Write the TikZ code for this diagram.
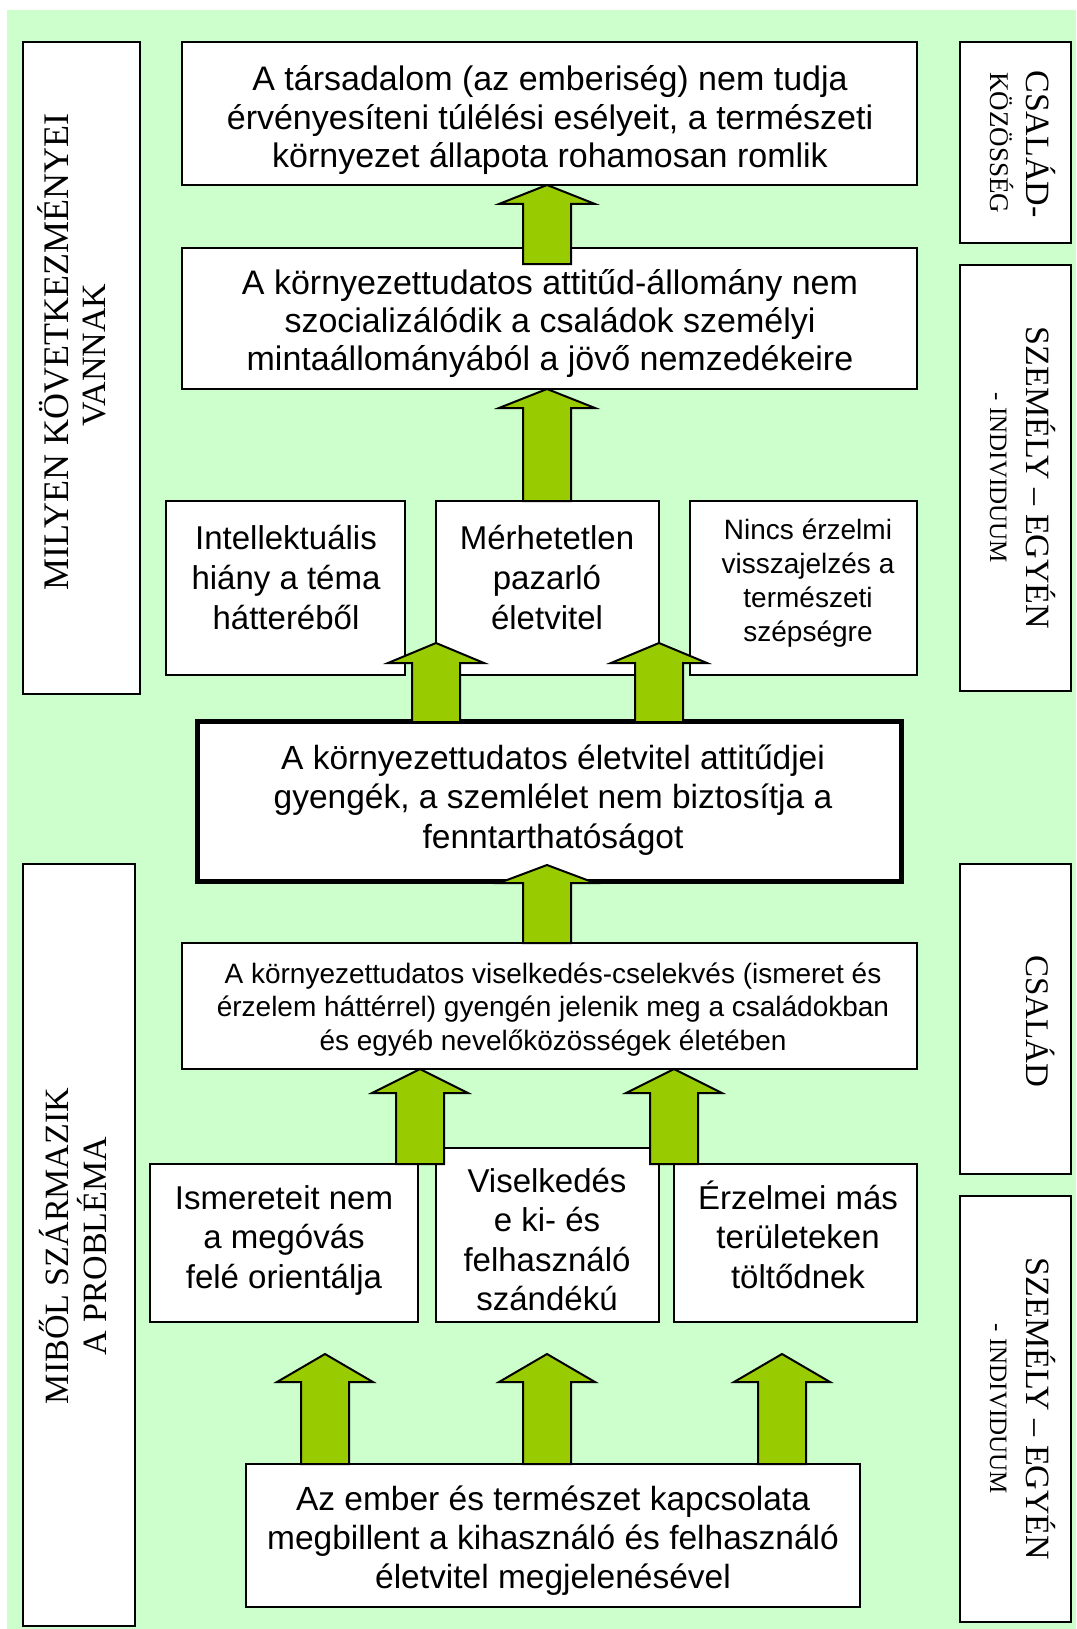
\documentclass[tikz,border=0pt]{standalone}
\usepackage{fontspec}
\setmainfont{Liberation Sans}
\newfontfamily\vserif{Liberation Serif}
\usetikzlibrary{fit}
\definecolor{bggreen}{HTML}{CCFFCC}
\definecolor{arrgreen}{HTML}{99CC00}
\newcommand\ml[1]{\begin{tabular}[t]{@{}c@{}}#1\end{tabular}}
% name, centre x, tip y, shoulder y, bottom y
\newcommand\blkarrow[5]{%
  \coordinate (#1-tip) at (#2,#3);
  \coordinate (#1-base) at (#2,#5);
  \draw[arr] (#1-tip) -- (#2+48,#4) -- (#2+24,#4) -- (#2+24,#5) -- (#1-base) -- (#2-24,#5) -- (#2-24,#4) -- (#2-48,#4) -- cycle;}
\begin{document}
\begin{tikzpicture}[x=1pt,y=-1pt,
  box/.style={draw=black, line width=1.7pt, fill=white, inner sep=0pt, outer sep=0pt},
  arr/.style={draw=black, line width=2pt, fill=arrgreen, line join=miter},
  txt/.style={anchor=base, inner sep=0pt, outer sep=0pt},
  fbig/.style={font={\fontsize{34}{38.5}\selectfont}},
  fmid/.style={font={\fontsize{33}{39.5}\selectfont}},
  fsmall/.style={font={\fontsize{28}{33.5}\selectfont}}]
\useasboundingbox (0,0) rectangle (1076,1629);
\fill[white] (0,0) rectangle (1076,1629);
\fill[bggreen] (7,10) rectangle (1076,1629);

% side boxes
\node[box, fit={(23,42)(140,694)}] (L1) {};
\node[box, fit={(23,864)(135,1626)}] (L2) {};
\node[box, fit={(960,42)(1071,243)}] (R1) {};
\node[box, fit={(960,265)(1071,691)}] (R2) {};
\node[box, fit={(960,864)(1071,1174)}] (R3) {};
\node[box, fit={(960,1196)(1071,1622)}] (R4) {};

% main boxes
\node[box, fit={(182,42)(917,185)}] (B1) {};
\node[box, fit={(182,248)(917,389)}] (B2) {};
\node[box, fit={(166,501)(405,675)}] (T1) {};
\node[box, fit={(436,501)(659,675)}] (T2) {};
\node[box, fit={(690,501)(917,675)}] (T3) {};
\node[box, line width=5pt, fit={(197,721)(901,881)}] (TH) {};
\node[box, fit={(182,943)(917,1069)}] (V) {};
\node[box, fit={(150,1164)(418,1322)}] (I) {};
\node[box, fit={(436,1148)(659,1322)}] (VI) {};
\node[box, fit={(674,1164)(917,1322)}] (E) {};
\node[box, fit={(246,1464)(860,1607)}] (BOT) {};

% block arrows
\blkarrow{a1}{547}{185}{204}{264}
\blkarrow{a2}{547}{389}{408}{501}
\blkarrow{a3}{436}{643}{663}{722}
\blkarrow{a4}{659}{643}{663}{722}
\blkarrow{a5}{547}{865}{883}{943}
\blkarrow{a6}{420}{1069}{1093}{1164}
\blkarrow{a7}{674}{1069}{1093}{1164}
\blkarrow{a8}{325}{1354}{1382}{1464}
\blkarrow{a9}{547}{1354}{1382}{1464}
\blkarrow{a10}{782}{1354}{1382}{1464}

% texts in main boxes
\node[txt, fbig] (tB1) at (550,91) {\ml{A társadalom (az emberiség) nem tudja\\érvényesíteni túlélési esélyeit, a természeti\\környezet állapota rohamosan romlik}};
\node[txt, fbig] (tB2) at (550,294) {\ml{A környezettudatos attitűd-állomány nem\\szocializálódik a családok személyi\\mintaállományából a jövő nemzedékeire}};
\node[txt, font={\fontsize{33}{40}\selectfont}] (tT1) at (286,549) {\ml{Intellektuális\\hiány a téma\\hátteréből}};
\node[txt, font={\fontsize{33}{40}\selectfont}] (tT2) at (547,549) {\ml{Mérhetetlen\\pazarló\\életvitel}};
\node[txt, font={\fontsize{28}{34}\selectfont}] (tT3) at (808,539) {\ml{Nincs érzelmi\\visszajelzés a\\természeti\\szépségre}};
\node[txt, font={\fontsize{33.5}{39.5}\selectfont}] (tTH) at (553,769) {\ml{A környezettudatos életvitel attitűdjei\\gyengék, a szemlélet nem biztosítja a\\fenntarthatóságot}};
\node[txt, fsmall] (tV) at (553,983) {\ml{A környezettudatos viselkedés-cselekvés (ismeret és\\érzelem háttérrel) gyengén jelenik meg a családokban\\és egyéb nevelőközösségek életében}};
\node[txt, fmid] (tI) at (284,1209) {\ml{Ismereteit nem\\a megóvás\\felé orientálja}};
\node[txt, fmid] (tVI) at (547,1192) {\ml{Viselkedés\\e ki- és\\felhasználó\\szándékú}};
\node[txt, fmid] (tE) at (798,1209) {\ml{Érzelmei más\\területeken\\töltődnek}};
\node[txt, font={\fontsize{33.5}{39}\selectfont}] (tBOT) at (553,1510) {\ml{Az ember és természet kapcsolata\\megbillent a kihasználó és felhasználó\\életvitel megjelenésével}};

% vertical texts, left
\node[txt, font={\vserif\fontsize{36}{40}\selectfont}, rotate=90] (tL1a) at (68,352) {MILYEN KÖVETKEZMÉNYEI};
\node[txt, font={\vserif\fontsize{34}{40}\selectfont}, rotate=90] (tL1b) at (105,355) {VANNAK};
\node[txt, font={\vserif\fontsize{34}{40}\selectfont}, rotate=90] (tL2a) at (68,1246) {MIBŐL SZÁRMAZIK};
\node[txt, font={\vserif\fontsize{34}{40}\selectfont}, rotate=90] (tL2b) at (106,1246) {A PROBLÉMA};

% vertical texts, right
\node[txt, font={\vserif\fontsize{34}{40}\selectfont}, rotate=-90] (tR1a) at (1026,144) {CSALÁD-};
\node[txt, font={\vserif\fontsize{27}{30}\selectfont}, rotate=-90] (tR1b) at (990,143) {KÖZÖSSÉG};
\node[txt, font={\vserif\fontsize{34}{40}\selectfont}, rotate=-90] (tR2a) at (1026,478) {SZEMÉLY – EGYÉN};
\node[txt, font={\vserif\fontsize{25}{30}\selectfont}, rotate=-90] (tR2b) at (990,478) {- INDIVIDUUM};
\node[txt, font={\vserif\fontsize{33}{40}\selectfont}, rotate=-90] (tR3) at (1026,1021) {CSALÁD};
\node[txt, font={\vserif\fontsize{34}{40}\selectfont}, rotate=-90] (tR4a) at (1026,1409) {SZEMÉLY – EGYÉN};
\node[txt, font={\vserif\fontsize{25}{30}\selectfont}, rotate=-90] (tR4b) at (990,1409) {- INDIVIDUUM};
\end{tikzpicture}
\end{document}
